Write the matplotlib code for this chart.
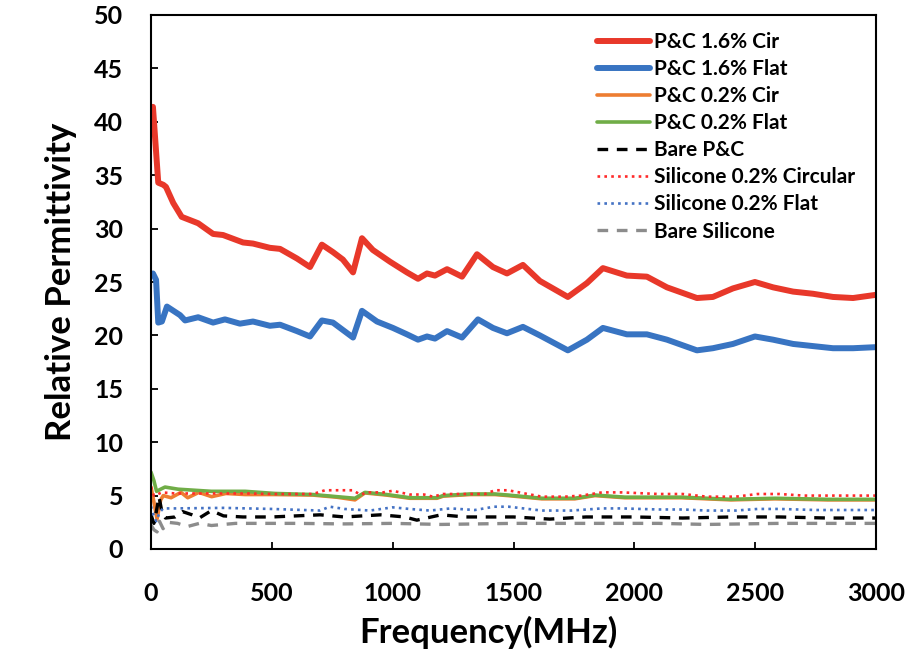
import matplotlib
matplotlib.use('Agg')
import matplotlib.pyplot as plt

plt.rcParams['font.family'] = ['Lato', 'DejaVu Sans']
plt.rcParams['font.weight'] = 'bold'

# P&C 1.6% Cir
f_pc16c = [8, 30, 51, 62, 92, 127, 195, 257, 298, 381, 422, 492, 534, 604, 658, 707, 753, 794,
           836, 873, 918, 989, 1059, 1105, 1142, 1175, 1225, 1287, 1349, 1415, 1473, 1539, 1609,
           1725, 1804, 1870, 1969, 2052, 2135, 2259, 2325, 2408, 2499, 2574, 2657, 2739, 2822,
           2905, 3000]
v_pc16c = [41.4, 34.3, 34.1, 33.9, 32.4, 31.1, 30.5, 29.5, 29.4, 28.7, 28.6, 28.2, 28.1, 27.2,
           26.4, 28.5, 27.8, 27.1, 25.9, 29.1, 28.0, 26.9, 25.9, 25.3, 25.8, 25.6, 26.2, 25.5,
           27.6, 26.4, 25.8, 26.6, 25.1, 23.6, 24.9, 26.3, 25.6, 25.5, 24.5, 23.5, 23.6, 24.4,
           25.0, 24.5, 24.1, 23.9, 23.6, 23.5, 23.8]

# P&C 1.6% Flat
f_pc16f = [8, 21, 30, 45, 66, 120, 141, 195, 257, 306, 368, 422, 492, 534, 604, 658, 707, 753,
           836, 873, 935, 1001, 1059, 1105, 1142, 1175, 1225, 1287, 1353, 1415, 1473, 1539,
           1609, 1725, 1804, 1870, 1969, 2052, 2135, 2259, 2325, 2408, 2499, 2574, 2657, 2739,
           2822, 2905, 3000]
v_pc16f = [25.8, 25.2, 21.2, 21.3, 22.7, 21.9, 21.4, 21.7, 21.2, 21.5, 21.1, 21.3, 20.9, 21.0,
           20.4, 19.9, 21.4, 21.2, 19.8, 22.3, 21.3, 20.7, 20.1, 19.6, 19.9, 19.7, 20.4, 19.8,
           21.5, 20.7, 20.2, 20.8, 20.0, 18.6, 19.6, 20.7, 20.1, 20.1, 19.6, 18.6, 18.8, 19.2,
           19.9, 19.6, 19.2, 19.0, 18.8, 18.8, 18.9]

# P&C 0.2% Cir
f_pc02c = [0, 12, 25, 40, 51, 83, 124, 152, 198, 251, 310, 389, 513, 670, 769, 844, 885, 975,
           1071, 1183, 1209, 1320, 1423, 1477, 1617, 1754, 1837, 1961, 2197, 2400, 2582, 2800, 3000]
v_pc02c = [5.8, 4.4, 2.8, 4.6, 5.0, 4.8, 5.3, 4.8, 5.3, 4.9, 5.2, 5.1, 5.1, 5.05, 4.85, 4.6,
           5.25, 5.05, 4.75, 4.75, 4.95, 5.1, 5.1, 5.0, 4.7, 4.7, 5.0, 4.8, 4.8, 4.6, 4.7, 4.6, 4.6]

# P&C 0.2% Flat
f_pc02f = [0, 12, 23, 40, 58, 112, 250, 390, 513, 670, 769, 844, 885, 975, 1071, 1183, 1209,
           1320, 1423, 1477, 1617, 1754, 1837, 1961, 2197, 2400, 2582, 2800, 3000]
v_pc02f = [7.2, 6.4, 5.4, 5.6, 5.8, 5.6, 5.4, 5.4, 5.2, 5.1, 4.9, 4.75, 5.3, 5.1, 4.8, 4.8,
           5.0, 5.15, 5.15, 5.05, 4.75, 4.75, 5.05, 4.85, 4.85, 4.65, 4.75, 4.65, 4.65]

# Bare P&C
f_bpc = [0, 12, 22, 33, 45, 60, 100, 131, 170, 200, 250, 300, 380, 500, 700, 800, 950, 1050,
         1100, 1200, 1300, 1500, 1650, 1800, 2000, 2200, 2400, 2600, 2800, 3000]
v_bpc = [3.2, 2.4, 3.5, 4.9, 3.5, 2.9, 3.0, 3.5, 3.2, 2.9, 3.6, 3.1, 3.0, 3.0, 3.2, 3.0, 3.2,
         3.0, 2.7, 3.2, 3.0, 3.0, 2.8, 3.0, 3.0, 2.9, 3.0, 3.0, 2.9, 2.9]

# Silicone 0.2% Circular
f_s02c = [0, 12, 25, 45, 100, 200, 300, 400, 500, 670, 720, 836, 865, 900, 960, 1000, 1071,
          1130, 1167, 1209, 1320, 1382, 1423, 1477, 1547, 1617, 1713, 1780, 1866, 1949, 2100,
          2200, 2300, 2420, 2510, 2600, 2700, 3000]
v_s02c = [5.8, 5.0, 5.1, 5.3, 5.2, 5.2, 5.2, 5.2, 5.15, 5.15, 5.5, 5.5, 5.1, 5.3, 5.3, 5.45,
          5.1, 5.1, 4.9, 5.15, 5.15, 5.15, 5.5, 5.5, 5.2, 4.9, 4.9, 5.0, 5.3, 5.3, 5.15, 5.15,
          4.9, 4.9, 5.15, 5.15, 5.0, 5.0]

# Silicone 0.2% Flat
f_s02f = [0, 10, 22, 35, 50, 100, 300, 500, 699, 740, 800, 906, 1000, 1070, 1154, 1240, 1340,
          1420, 1480, 1617, 1740, 1866, 1949, 2100, 2200, 2300, 2420, 2510, 2600, 2750, 3000]
v_s02f = [4.0, 3.2, 2.6, 3.4, 3.8, 3.8, 3.85, 3.75, 3.6, 3.96, 3.75, 3.6, 3.9, 3.75, 3.6, 3.8,
          3.65, 3.96, 3.96, 3.6, 3.6, 3.8, 3.8, 3.7, 3.7, 3.6, 3.6, 3.75, 3.75, 3.65, 3.65]

# Bare Silicone
f_bs = [0, 12, 25, 35, 50, 70, 110, 150, 200, 250, 350, 600, 800, 1000, 1200, 1500, 1800, 2100,
        2300, 2600, 3000]
v_bs = [2.25, 1.8, 1.6, 2.6, 1.9, 2.5, 2.4, 2.1, 2.4, 2.2, 2.4, 2.4, 2.35, 2.4, 2.3, 2.4, 2.4,
        2.4, 2.3, 2.4, 2.4]

fig = plt.figure(figsize=(9.1, 6.59), dpi=100)
ax = fig.add_axes([151/910, 110/659, 725/910, 534/659])

kw = dict(solid_joinstyle='round', solid_capstyle='round')
ax.plot(f_pc16c, v_pc16c, color='#E8382A', lw=4.3, label='P&C 1.6% Cir', **kw)
ax.plot(f_pc16f, v_pc16f, color='#3874C2', lw=4.3, label='P&C 1.6% Flat', **kw)
ax.plot(f_pc02c, v_pc02c, color='#ED7D31', lw=2.6, label='P&C 0.2% Cir', **kw)
ax.plot(f_pc02f, v_pc02f, color='#70AD47', lw=2.6, label='P&C 0.2% Flat', **kw)
ax.plot(f_bpc, v_bpc, color='black', lw=2.4, dashes=(3.2, 2.6), label='Bare P&C')
ax.plot(f_s02c, v_s02c, color='#FF2A2A', lw=1.9, dashes=(1, 1.6), label='Silicone 0.2% Circular')
ax.plot(f_s02f, v_s02f, color='#4472C4', lw=1.9, dashes=(1, 1.6), label='Silicone 0.2% Flat')
ax.plot(f_bs, v_bs, color='#8C8C8C', lw=2.4, dashes=(3.2, 2.6), label='Bare Silicone')

ax.set_xlim(0, 3000)
ax.set_ylim(0, 50)
ax.set_xticks(range(0, 3001, 500))
ax.set_yticks(range(0, 51, 5))
for s in ax.spines.values():
    s.set_linewidth(1.5)
ax.tick_params(direction='in', length=5, width=1.3, labelsize=18, pad=20)
ax.tick_params(axis='x', pad=24)
ax.set_xlabel('Frequency(MHz)', fontsize=25, fontweight='bold')
ax.xaxis.set_label_coords((488 - 151) / 725, -0.125)
ax.set_ylabel('Relative Permittivity', fontsize=25, fontweight='bold', labelpad=12)

ax.legend(loc='upper left', bbox_to_anchor=(597/910, (659-32)/659),
          bbox_transform=fig.transFigure, frameon=False, fontsize=15,
          handlelength=2.55, handletextpad=0.2, labelspacing=0.34,
          borderpad=0, borderaxespad=0)

fig.savefig('out.png', dpi=100)
